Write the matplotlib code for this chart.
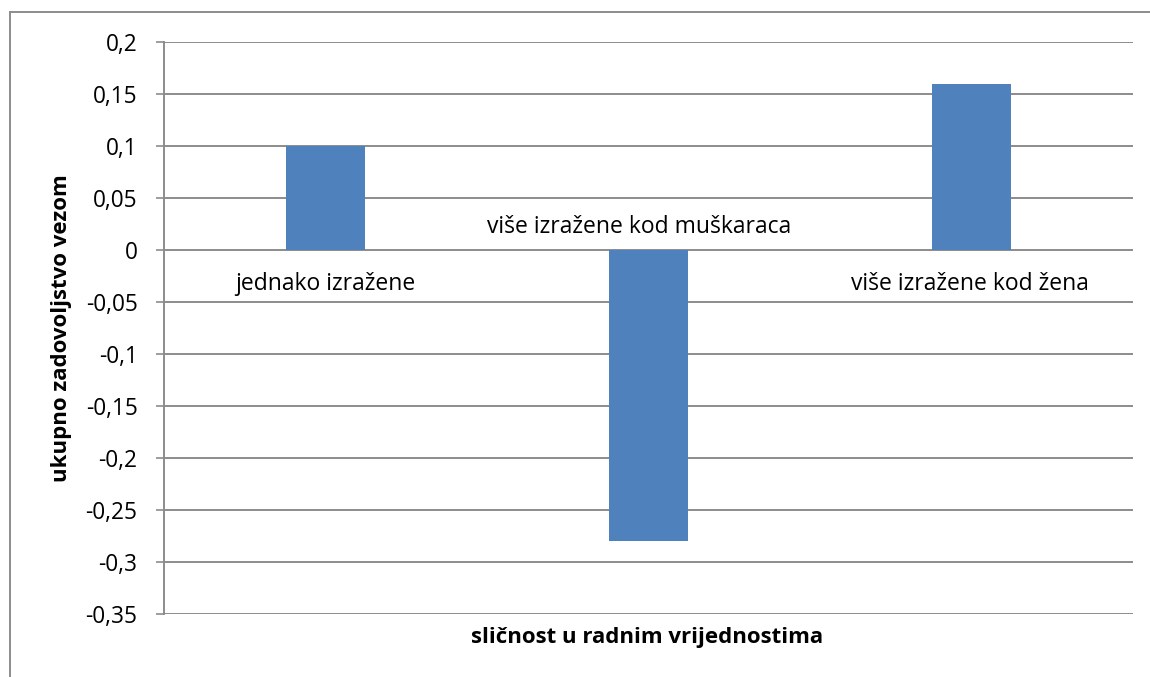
import matplotlib
matplotlib.use("Agg")
import matplotlib.pyplot as plt
from matplotlib.lines import Line2D

categories = ["jednako izražene", "više izražene kod muškaraca", "više izražene kod žena"]
values = [0.10, -0.28, 0.16]
y_ticks = [0.2, 0.15, 0.1, 0.05, 0.0, -0.05, -0.1, -0.15, -0.2, -0.25, -0.3, -0.35]
y_tick_labels = ["0,2", "0,15", "0,1", "0,05", "0", "-0,05", "-0,1", "-0,15", "-0,2", "-0,25", "-0,3", "-0,35"]
x_title = "sličnost u radnim vrijednostima"
y_title = "ukupno zadovoljstvo vezom"

plt.rcParams['font.family'] = ['Open Sans', 'DejaVu Sans']

BAR = "#4F81BD"
GRID = "#8C8C8C"

fig = plt.figure(figsize=(11.5, 6.77), dpi=100)
ax = fig.add_axes([164 / 1150, 1 - 614 / 677, (1133 - 164) / 1150, (614 - 42) / 677])

x = list(range(len(categories)))
ax.bar(x, values, width=0.245, color=BAR, zorder=3)

ax.set_xlim(-0.5, len(categories) - 0.5)
ax.set_ylim(-0.35, 0.2)
ax.set_yticks(y_ticks)
ax.set_yticklabels(y_tick_labels, fontsize=16.3)
ax.set_xticks([])

ax.yaxis.grid(True, color=GRID, linewidth=1.4, zorder=0)
ax.tick_params(axis="y", length=6, width=1.2, color=GRID, pad=13)
for s in ["top", "right", "bottom"]:
    ax.spines[s].set_visible(False)
ax.spines["left"].set_color(GRID)
ax.spines["left"].set_linewidth(1.4)

# category names beside the zero line, on the side away from each bar
offsets = [0.0, -0.028, -0.004]
for xi, v, name, dx in zip(x, values, categories, offsets):
    if v >= 0:
        ax.text(xi + dx, -0.033, name, ha="center", va="center", fontsize=16.5)
    else:
        ax.text(xi + dx, 0.022, name, ha="center", va="center", fontsize=16.5)

fig.text(647 / 1150, 1 - 637 / 677, x_title, ha="center", va="center",
         fontsize=16, fontweight="bold")
fig.text(62 / 1150, 1 - 328 / 677, y_title, ha="center", va="center",
         rotation=90, fontsize=16, fontweight="bold")

# outer chart frame (left and top edges)
fig.add_artist(Line2D([10 / 1150, 10 / 1150], [0, 1 - 12 / 677],
                      transform=fig.transFigure, color=GRID, linewidth=1.4))
fig.add_artist(Line2D([10 / 1150, 1], [1 - 12 / 677, 1 - 12 / 677],
                      transform=fig.transFigure, color=GRID, linewidth=1.4))

fig.savefig("out.png", dpi=100, facecolor="white")
